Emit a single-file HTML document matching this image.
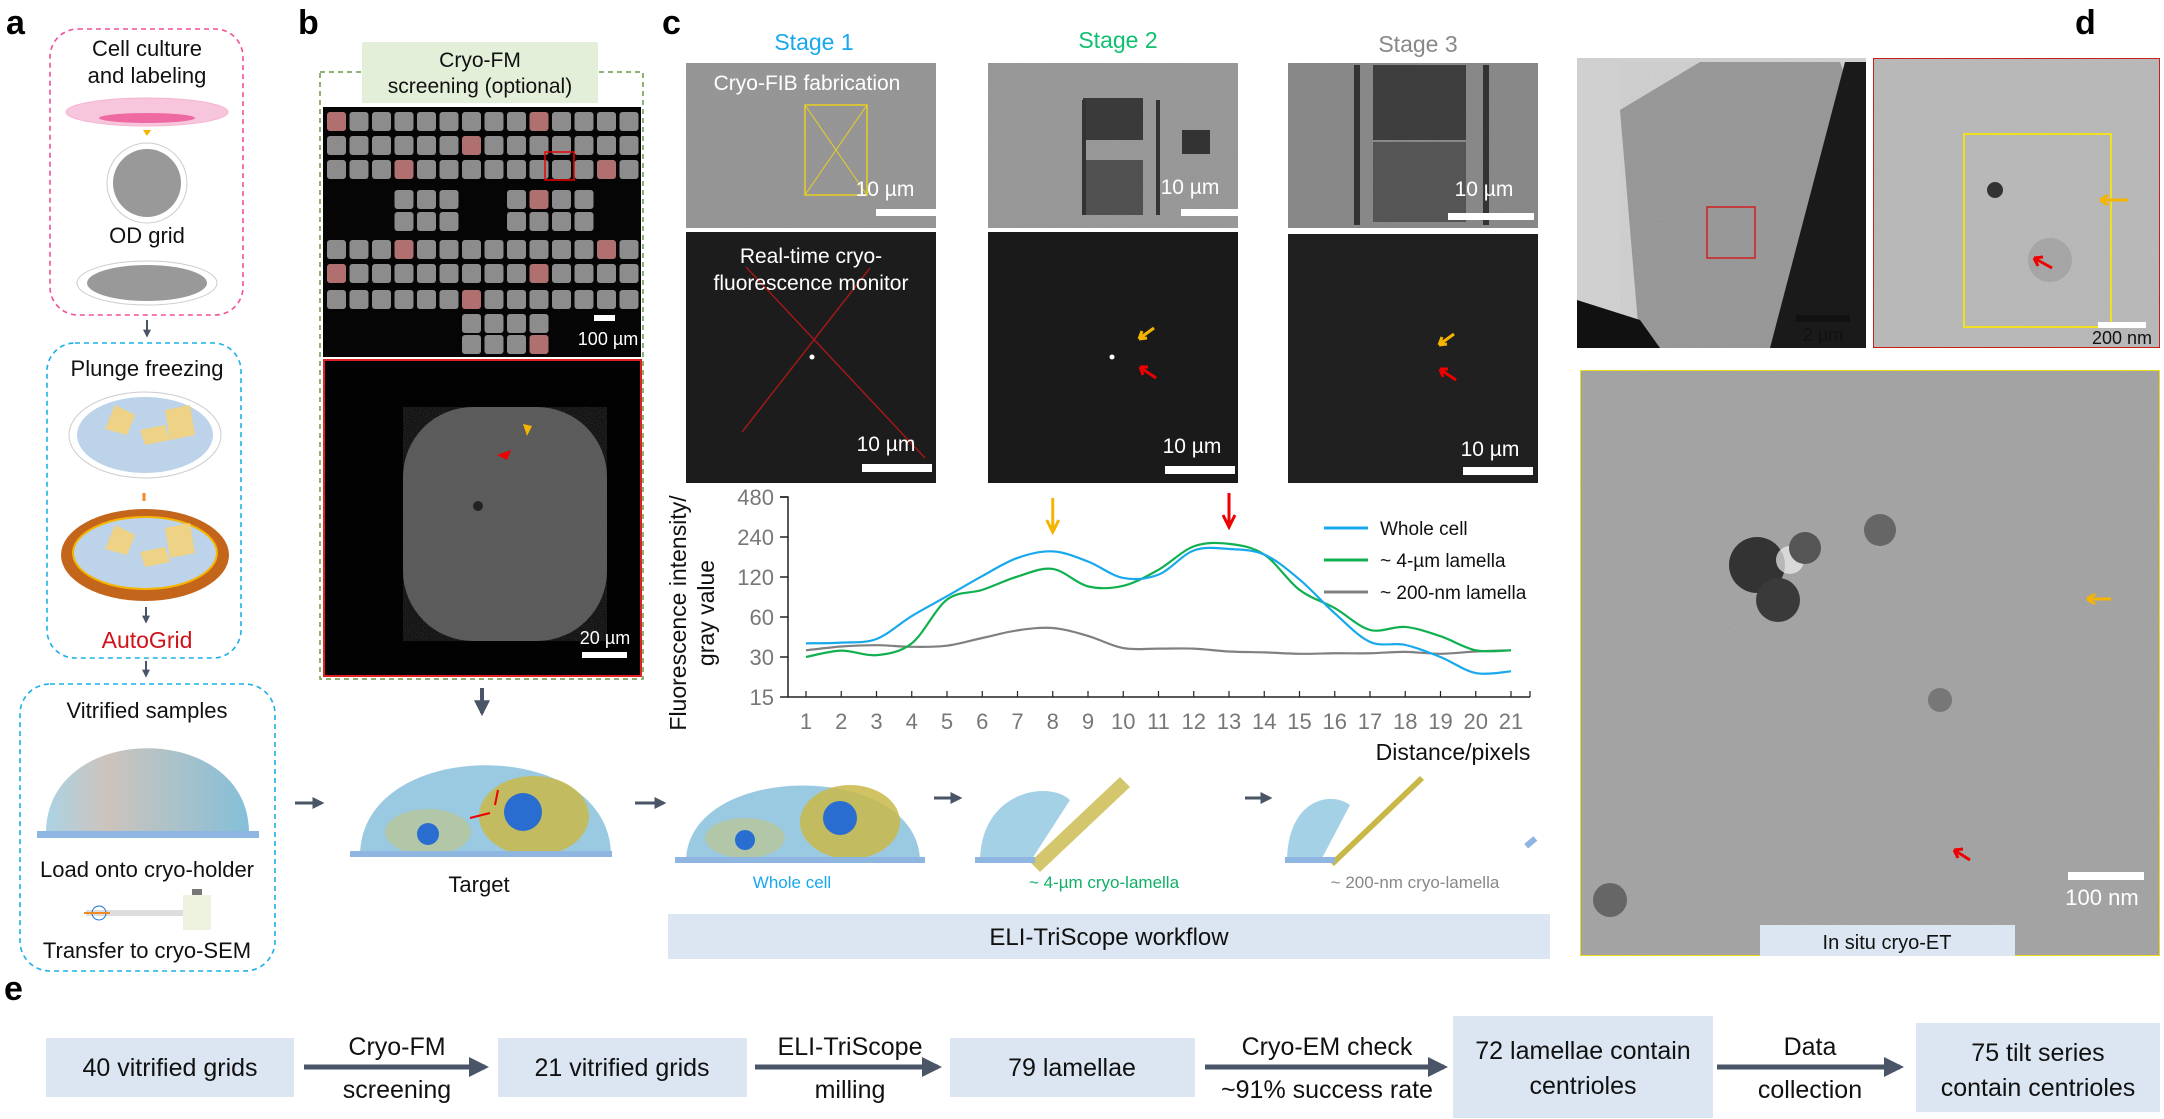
<!DOCTYPE html>
<html><head><meta charset="utf-8"><style>
html,body{margin:0;padding:0;background:#fff}
svg{display:block;font-family:"Liberation Sans",sans-serif}
</style></head><body>
<svg id="fig" width="2164" height="1119" viewBox="0 0 2164 1119" xmlns="http://www.w3.org/2000/svg">
<defs>
<filter id="noise" x="0" y="0" width="100%" height="100%"><feTurbulence type="fractalNoise" baseFrequency="0.9" numOctaves="2" seed="3"/><feColorMatrix type="saturate" values="0"/><feComponentTransfer><feFuncA type="table" tableValues="0 0.25"/></feComponentTransfer><feBlend in2="SourceGraphic" mode="multiply"/></filter>
<linearGradient id="dome" x1="0" x2="1"><stop offset="0" stop-color="#9ccbe0"/><stop offset="0.3" stop-color="#c4b9b0"/><stop offset="1" stop-color="#6fb4d2"/></linearGradient>
<marker id="ah" viewBox="0 0 10 10" refX="8" refY="5" markerWidth="4" markerHeight="4" orient="auto"><path d="M0,0L10,5L0,10z" fill="#4a5668"/></marker>
</defs>

<g font-weight="bold" font-size="34" fill="#000">
<text x="6" y="34">a</text>
<text x="298" y="34">b</text>
<text x="662" y="34">c</text>
<text x="2075" y="34">d</text>
<text x="4" y="1000">e</text>
</g>

<g font-size="22" text-anchor="middle" fill="#111">
<rect x="50" y="29" width="193" height="286" rx="28" fill="none" stroke="#f0509a" stroke-width="1.6" stroke-dasharray="5,4"/>
<text x="147" y="56">Cell culture</text><text x="147" y="83">and labeling</text>
<ellipse cx="147" cy="112" rx="81" ry="14" fill="#f8c6dc" stroke="#f5b4cf"/>
<ellipse cx="147" cy="118" rx="48" ry="5" fill="#ef6aa3"/>
<path d="M147 136 l-4 -6 h8z" fill="#f5b400"/>
<ellipse cx="147" cy="183" rx="40" ry="40" fill="#fff" stroke="#ccc"/>
<ellipse cx="147" cy="183" rx="34" ry="34" fill="#999"/>
<text x="147" y="243">OD grid</text>
<path d="M147 262 v8" stroke="#f5b400" stroke-width="3"/>
<ellipse cx="147" cy="283" rx="70" ry="22" fill="#fff" stroke="#ccc"/>
<ellipse cx="147" cy="283" rx="60" ry="18" fill="#999"/>
<line x1="147" y1="320" x2="147" y2="336" stroke="#4a5668" stroke-width="2" marker-end="url(#ah)"/>
<rect x="47" y="343" width="194" height="315" rx="28" fill="none" stroke="#1ab0e8" stroke-width="1.6" stroke-dasharray="5,4"/>
<text x="147" y="376">Plunge freezing</text>
<ellipse cx="145" cy="435" rx="76" ry="43" fill="#fff" stroke="#ccc"/>
<ellipse cx="145" cy="435" rx="68" ry="38" fill="#bcd3ea"/>
<path d="M115 405 l20 10 l-8 20 l-22 -6z M165 410 l25 -5 l5 30 l-25 5z M140 430 l25 -5 l5 15 l-25 5z" fill="#f3d27a" opacity="0.9"/>
<path d="M144 493 v8" stroke="#f08a24" stroke-width="3"/>
<ellipse cx="145" cy="555" rx="84" ry="46" fill="#c4651c"/>
<ellipse cx="145" cy="553" rx="72" ry="36" fill="#bcd3ea" stroke="#f5b400" stroke-width="2"/>
<path d="M115 525 l20 10 l-8 20 l-22 -6z M165 528 l25 -5 l5 30 l-25 5z M140 552 l25 -5 l5 15 l-25 5z" fill="#f3d27a" opacity="0.9"/>
<line x1="146" y1="607" x2="146" y2="622" stroke="#4a5668" stroke-width="2" marker-end="url(#ah)"/>
<text x="147" y="648" fill="#d0121b" font-size="23">AutoGrid</text>
<line x1="146" y1="661" x2="146" y2="676" stroke="#4a5668" stroke-width="2" marker-end="url(#ah)"/>
<rect x="20" y="684" width="255" height="287" rx="30" fill="none" stroke="#1ab0e8" stroke-width="1.6" stroke-dasharray="5,4"/>
<text x="147" y="718">Vitrified samples</text>
<path d="M46 833 C46 720 249 720 249 833 z" fill="url(#dome)" opacity="0.85"/>
<rect x="37" y="831" width="222" height="7" fill="#8fb6e0"/>
<text x="147" y="877">Load onto cryo-holder</text>
<line x1="86" y1="913" x2="185" y2="913" stroke="#ddd" stroke-width="6"/>
<circle cx="99" cy="913" r="7" fill="none" stroke="#1a6fd0"/>
<line x1="84" y1="913" x2="110" y2="913" stroke="#f08a24" stroke-width="2"/>
<rect x="183" y="895" width="28" height="35" fill="#eef3df"/>
<rect x="192" y="889" width="10" height="6" fill="#777"/>
<text x="147" y="958">Transfer to cryo-SEM</text>
</g>

<line x1="295" y1="803" x2="322" y2="803" stroke="#4a5668" stroke-width="3" marker-end="url(#ah)"/>

<g>
<rect x="320" y="72" width="323" height="607" fill="none" stroke="#6a9a4a" stroke-width="1.5" stroke-dasharray="5,4"/>
<rect x="362" y="42" width="236" height="61" fill="#e3efd9"/>
<text x="480" y="67" font-size="21" text-anchor="middle" fill="#111">Cryo-FM</text>
<text x="480" y="93" font-size="21" text-anchor="middle" fill="#111">screening (optional)</text>
<rect x="323" y="107" width="318" height="250" fill="#050505"/>
<g id="gridsq"></g>
<rect x="545" y="152" width="29" height="28" fill="none" stroke="#e00" stroke-width="1.5"/>
<rect x="594" y="315" width="21" height="6" fill="#fff"/>
<text x="608" y="345" font-size="18" fill="#fff" text-anchor="middle">100 µm</text>
<rect x="324" y="360" width="317" height="316" fill="#020202" stroke="#e02020" stroke-width="2"/>
<rect x="403" y="407" width="204" height="234" rx="70" fill="#5e5e5e" filter="url(#noise)"/>
<path d="M523 424 l4 12 l5 -10" fill="#f5b400"/>
<path d="M497 455 l14 -5 l-4 10z" fill="#e00"/>
<circle cx="478" cy="506" r="5" fill="#222"/>
<text x="605" y="644" font-size="18" fill="#fff" text-anchor="middle">20 µm</text>
<rect x="582" y="652" width="45" height="6" fill="#fff"/>
<line x1="482" y1="688" x2="482" y2="713" stroke="#4a5668" stroke-width="4" marker-end="url(#ah)"/>
<path d="M360 856 C360 735 611 735 611 856 z" fill="#7fbddb" opacity="0.8"/>
<ellipse cx="428" cy="832" rx="43" ry="23" fill="#b8c49a" opacity="0.8"/>
<circle cx="428" cy="834" r="11" fill="#2a6dd0"/>
<ellipse cx="534" cy="816" rx="55" ry="40" fill="#c9b848" opacity="0.85"/>
<circle cx="523" cy="812" r="19" fill="#2a6dd0"/>
<path d="M470 818 l20 -5 M495 805 l3 -15" stroke="#e00" stroke-width="2"/>
<rect x="350" y="851" width="262" height="6" fill="#8fb6e0"/>
<text x="479" y="892" font-size="22" text-anchor="middle" fill="#111">Target</text>
</g>
<line x1="635" y1="803" x2="664" y2="803" stroke="#4a5668" stroke-width="3" marker-end="url(#ah)"/>

<g>
<text x="814" y="50" font-size="23" fill="#18a8ec" text-anchor="middle">Stage 1</text>
<text x="1118" y="48" font-size="23" fill="#10c070" text-anchor="middle">Stage 2</text>
<text x="1418" y="52" font-size="23" fill="#888" text-anchor="middle">Stage 3</text>
<rect x="686" y="63" width="250" height="165" fill="#9a9a9a" filter="url(#noise)"/>
<rect x="988" y="63" width="250" height="165" fill="#9c9c9c" filter="url(#noise)"/>
<rect x="1288" y="63" width="250" height="165" fill="#8c8c8c" filter="url(#noise)"/>
<rect x="805" y="105" width="62" height="90" fill="none" stroke="#e8d020" stroke-width="1.5"/>
<path d="M805 105 L867 195 M867 105 L805 195" stroke="#e8d020" stroke-width="1"/>
<text x="807" y="90" font-size="21" fill="#fff" text-anchor="middle">Cryo-FIB fabrication</text>
<rect x="1083" y="98" width="60" height="42" fill="#3a3a3a"/>
<rect x="1083" y="160" width="60" height="55" fill="#505050"/>
<rect x="1082" y="100" width="4" height="115" fill="#333"/>
<rect x="1156" y="100" width="4" height="115" fill="#333"/>
<rect x="1182" y="130" width="28" height="24" fill="#333"/>
<rect x="1373" y="65" width="93" height="75" fill="#3e3e3e"/>
<rect x="1373" y="142" width="93" height="80" fill="#555"/>
<rect x="1354" y="65" width="6" height="160" fill="#333"/>
<rect x="1483" y="65" width="6" height="160" fill="#333"/>
<g font-size="21" fill="#fff" text-anchor="middle">
<text x="885" y="196">10 µm</text><text x="1190" y="194">10 µm</text><text x="1484" y="196">10 µm</text>
</g>
<rect x="876" y="209" width="68" height="7" fill="#fff"/>
<rect x="1181" y="209" width="67" height="7" fill="#fff"/>
<rect x="1448" y="213" width="86" height="7" fill="#fff"/>
<rect x="686" y="232" width="250" height="251" fill="#1c1c1c"/>
<rect x="988" y="232" width="250" height="251" fill="#1a1a1a"/>
<rect x="1288" y="234" width="250" height="249" fill="#202020"/>
<path d="M746 267 L925 458 M742 432 L870 268" stroke="#a01818" stroke-width="1.5"/>
<text x="811" y="263" font-size="21" fill="#fff" text-anchor="middle">Real-time cryo-</text>
<text x="811" y="290" font-size="21" fill="#fff" text-anchor="middle">fluorescence monitor</text>
<circle cx="812" cy="357" r="2.5" fill="#fff"/>
<circle cx="1112" cy="357" r="2.5" fill="#fff"/>
<path d="M1154 328 l-14 10 M1139 339 l3 -8 M1139 339 l8 -1" stroke="#f5b400" stroke-width="3" fill="none"/>
<path d="M1156 378 l-15 -10 M1140 367 l8 0 M1140 367 l3 8" stroke="#e00" stroke-width="3" fill="none"/>
<path d="M1454 334 l-14 10 M1439 345 l3 -8 M1439 345 l8 -1" stroke="#f5b400" stroke-width="3" fill="none"/>
<path d="M1456 380 l-15 -10 M1440 369 l8 0 M1440 369 l3 8" stroke="#e00" stroke-width="3" fill="none"/>
<g font-size="21" fill="#fff" text-anchor="middle">
<text x="886" y="451">10 µm</text><text x="1192" y="453">10 µm</text><text x="1490" y="456">10 µm</text>
</g>
<rect x="862" y="464" width="70" height="8" fill="#fff"/>
<rect x="1165" y="466" width="70" height="8" fill="#fff"/>
<rect x="1463" y="467" width="70" height="8" fill="#fff"/>
</g>

<g id="chart"></g>

<g>
<path d="M686 862 C686 760 920 760 920 862 z" fill="#7fbddb" opacity="0.8"/>
<ellipse cx="745" cy="838" rx="40" ry="20" fill="#b8c49a" opacity="0.8"/>
<circle cx="745" cy="840" r="10" fill="#2a6dd0"/>
<ellipse cx="850" cy="822" rx="50" ry="37" fill="#c9b848" opacity="0.85"/>
<circle cx="840" cy="818" r="17" fill="#2a6dd0"/>
<rect x="675" y="857" width="250" height="6" fill="#8fb6e0"/>
<line x1="934" y1="798" x2="960" y2="798" stroke="#4a5668" stroke-width="3" marker-end="url(#ah)"/>
<path d="M980 862 C980 790 1050 780 1070 800 L1030 862z" fill="#7fbddb" opacity="0.7"/>
<polygon points="1030,862 1120,777 1130,787 1040,872" fill="#c9b848" opacity="0.8"/>
<rect x="975" y="857" width="60" height="6" fill="#8fb6e0"/>
<text x="1104" y="888" font-size="17" fill="#10b068" text-anchor="middle">~ 4-µm cryo-lamella</text>
<line x1="1245" y1="798" x2="1270" y2="798" stroke="#4a5668" stroke-width="3" marker-end="url(#ah)"/>
<path d="M1287 862 C1287 800 1330 790 1350 805 L1320 862z" fill="#7fbddb" opacity="0.7"/>
<polygon points="1330,862 1420,776 1424,780 1334,866" fill="#c9b848"/>
<rect x="1285" y="857" width="50" height="6" fill="#8fb6e0"/>
<rect x="1525" y="840" width="12" height="6" fill="#8fb6e0" transform="rotate(-40 1530 843)"/>
<text x="792" y="888" font-size="17" fill="#18a8ec" text-anchor="middle">Whole cell</text>
<text x="1415" y="888" font-size="17" fill="#888" text-anchor="middle">~ 200-nm cryo-lamella</text>
<rect x="668" y="914" width="882" height="45" fill="#dbe6f2"/>
<text x="1109" y="945" font-size="24" fill="#111" text-anchor="middle">ELI-TriScope workflow</text>
</g>

<g>
<rect x="1577" y="58" width="289" height="290" fill="#d0d0d0"/>
<polygon points="1620,110 1700,62 1840,62 1850,90 1770,348 1640,348" fill="#9c9c9c" filter="url(#noise)"/>
<polygon points="1577,300 1640,320 1660,348 1577,348" fill="#111"/>
<polygon points="1845,62 1866,62 1866,348 1770,348" fill="#1a1a1a"/>
<rect x="1707" y="207" width="48" height="51" fill="none" stroke="#d02020" stroke-width="1.5"/>
<rect x="1796" y="315" width="54" height="7" fill="#111"/>
<text x="1823" y="341" font-size="18" fill="#111" text-anchor="middle">2 µm</text>
<rect x="1873" y="58" width="287" height="290" fill="#bdbdbd" stroke="#d02020" stroke-width="2" filter="url(#noise)"/>
<rect x="1964" y="134" width="147" height="193" fill="none" stroke="#f0e020" stroke-width="2"/>
<circle cx="1995" cy="190" r="8" fill="#333"/>
<circle cx="2050" cy="260" r="22" fill="#999" opacity="0.6"/>
<path d="M2100 200 l28 0 M2100 200 l8 -5 M2100 200 l8 5" stroke="#f5b400" stroke-width="3"/>
<path d="M2052 268 l-18 -10 M2034 258 l9 -1 M2034 258 l4 8" stroke="#e00" stroke-width="3"/>
<rect x="2098" y="322" width="48" height="6" fill="#fff"/>
<text x="2122" y="344" font-size="18" fill="#111" text-anchor="middle">200 nm</text>
<rect x="1580" y="370" width="580" height="586" fill="#a8a8a8" stroke="#f0e020" stroke-width="2" filter="url(#noise)"/>
<circle cx="1757" cy="565" r="28" fill="#333"/>
<circle cx="1778" cy="600" r="22" fill="#3a3a3a"/>
<circle cx="1790" cy="560" r="14" fill="#f0f0f0" opacity="0.7"/>
<circle cx="1805" cy="548" r="16" fill="#555"/>
<circle cx="1880" cy="530" r="16" fill="#666"/>
<circle cx="1610" cy="900" r="17" fill="#666"/>
<circle cx="1940" cy="700" r="12" fill="#777"/>
<path d="M2087 599 l24 0 M2087 599 l8 -5 M2087 599 l8 5" stroke="#f5b400" stroke-width="3"/>
<path d="M1970 860 l-16 -10 M1954 850 l9 -1 M1954 850 l4 8" stroke="#e00" stroke-width="3"/>
<rect x="2068" y="872" width="76" height="8" fill="#fff"/>
<text x="2102" y="905" font-size="22" fill="#fff" text-anchor="middle">100 nm</text>
<rect x="1760" y="925" width="255" height="31" fill="#dbe6f2"/>
<text x="1887" y="949" font-size="20" fill="#111" text-anchor="middle">In situ cryo-ET</text>
</g>

<g font-size="25" fill="#111" text-anchor="middle">
<rect x="46" y="1038" width="248" height="59" fill="#dbe6f2"/>
<text x="170" y="1076">40 vitrified grids</text>
<rect x="498" y="1038" width="249" height="59" fill="#dbe6f2"/>
<text x="622" y="1076">21 vitrified grids</text>
<rect x="950" y="1038" width="245" height="59" fill="#dbe6f2"/>
<text x="1072" y="1076">79 lamellae</text>
<rect x="1453" y="1016" width="260" height="102" fill="#dbe6f2"/>
<text x="1583" y="1059">72 lamellae contain</text><text x="1583" y="1094">centrioles</text>
<rect x="1916" y="1023" width="244" height="89" fill="#dbe6f2"/>
<text x="2038" y="1061">75 tilt series</text><text x="2038" y="1096">contain centrioles</text>
<g stroke="#4a5668" stroke-width="5" marker-end="url(#ah)">
<line x1="304" y1="1067" x2="485" y2="1067"/><line x1="755" y1="1067" x2="938" y2="1067"/>
<line x1="1205" y1="1067" x2="1444" y2="1067"/><line x1="1717" y1="1067" x2="1900" y2="1067"/>
</g>
<text x="397" y="1055">Cryo-FM</text><text x="397" y="1098">screening</text>
<text x="850" y="1055">ELI-TriScope</text><text x="850" y="1098">milling</text>
<text x="1327" y="1055">Cryo-EM check</text><text x="1327" y="1098">~91% success rate</text>
<text x="1810" y="1055">Data</text><text x="1810" y="1098">collection</text>
</g>
</svg>
<script>
const xCats = [1,2,3,4,5,6,7,8,9,10,11,12,13,14,15,16,17,18,19,20,21];
const yTicks = [15,30,60,120,240,480];
const wholeCell = [38,38.5,41,61,86,122,167,187,157,118,125,190,195,177,115,64,39,37,30,22.7,23.4];
const lamella4um = [30,33.5,31,38,81,96,121,138,102,103,136,204,213,177,96,70,48,50.5,43,33.7,33.7];
const lamella200nm = [33.7,36,36.8,35.8,36.5,41.7,47.6,49.6,43.2,35,34.7,34.7,33,32.5,31.7,32,32,32.8,31.7,33,33.7];
const seriesNames = ["Whole cell","~ 4-µm lamella","~ 200-nm lamella"];
const seriesColors = ["#18a8ec","#10b050","#808080"];

const NS="http://www.w3.org/2000/svg";
const g=document.getElementById('chart');
function X(i){return 806+(i-1)*35.25;}
function Y(v){return 697-40*Math.log2(v/15);}
function mk(t,a,parent){const e=document.createElementNS(NS,t);for(const k in a)e.setAttribute(k,a[k]);(parent||g).appendChild(e);return e;}

const ax=mk('path',{d:'M780 497 H788 V697 H1530',fill:'none',stroke:'#222','stroke-width':1.5});


yTicks.forEach(v=>{
  mk('line',{x1:780,x2:788,y1:Y(v),y2:Y(v),stroke:'#222','stroke-width':1.5});
  const t=mk('text',{x:774,y:Y(v)+8,'font-size':22,fill:'#777','text-anchor':'end'});
  t.textContent=v;
  
  
});
xCats.forEach(c=>{
  mk('line',{x1:X(c),x2:X(c),y1:691,y2:697,stroke:'#222','stroke-width':1.2});
  const t=mk('text',{x:X(c),y:729,'font-size':22,fill:'#777','text-anchor':'middle'});
  t.textContent=c;
  
  
});
mk('line',{x1:1530,x2:1530,y1:691,y2:697,stroke:'#222','stroke-width':1.2});
const xt=mk('text',{x:1453,y:760,'font-size':23,fill:'#111','text-anchor':'middle'});
xt.textContent='Distance/pixels';


const yt=mk('text',{transform:'translate(686 613) rotate(-90)','font-size':23,fill:'#111','text-anchor':'middle'});
yt.textContent='Fluorescence intensity/';


const yt2=mk('text',{transform:'translate(714 613) rotate(-90)','font-size':23,fill:'#111','text-anchor':'middle'});
yt2.textContent='gray value';



function smooth(vals){
  const p=vals.map((v,i)=>[X(xCats[i]),Y(v)]);
  let d='M'+p[0][0]+' '+p[0][1];
  for(let i=0;i<p.length-1;i++){
    const p0=p[i-1]||p[i],p1=p[i],p2=p[i+1],p3=p[i+2]||p2;
    const c1=[p1[0]+(p2[0]-p0[0])/6,p1[1]+(p2[1]-p0[1])/6];
    const c2=[p2[0]-(p3[0]-p1[0])/6,p2[1]-(p3[1]-p1[1])/6];
    d+=` C${c1[0]} ${c1[1]} ${c2[0]} ${c2[1]} ${p2[0]} ${p2[1]}`;
  }
  return d;
}
[lamella200nm,lamella4um,wholeCell].forEach((s,k)=>{
  const idx=2-k;
  const l=mk('path',{d:smooth(s),fill:'none',stroke:seriesColors[idx],'stroke-width':2.2});
  
  
});
seriesNames.forEach((n,i)=>{
  const y=528+i*32;
  const ln=mk('line',{x1:1324,x2:1368,y1:y,y2:y,stroke:seriesColors[i],'stroke-width':3});
  
  
  const t=mk('text',{x:1380,y:y+7,'font-size':19,fill:'#111'});
  t.textContent=n;
  
  
});
const a1=mk('path',{d:`M${X(8)} 498 V528 M${X(8)-6} 520 L${X(8)} 532 L${X(8)+6} 520`,stroke:'#f5b400','stroke-width':3,fill:'none'});


const a2=mk('path',{d:`M${X(13)} 493 V523 M${X(13)-6} 515 L${X(13)} 527 L${X(13)+6} 515`,stroke:'#e00','stroke-width':3,fill:'none'});



const gs=document.getElementById('gridsq');
const rows=[112,136,160,190,212,240,264,290,314,335];
for(let r=0;r<rows.length;r++){
  for(let c=0;c<14;c++){
    if((r===3||r===4)&&(c<3||c===6||c===7||c>11))continue;
    if(r>=8&&(c<6||c>9))continue;
    const e=mk('rect',{x:327+c*22.5,y:rows[r],width:19,height:19,rx:3,fill:(c*7+r*3)%9===0?'#b07070':'#8c8c8c'},gs);
    
    
  }
}
</script>
</body></html>
